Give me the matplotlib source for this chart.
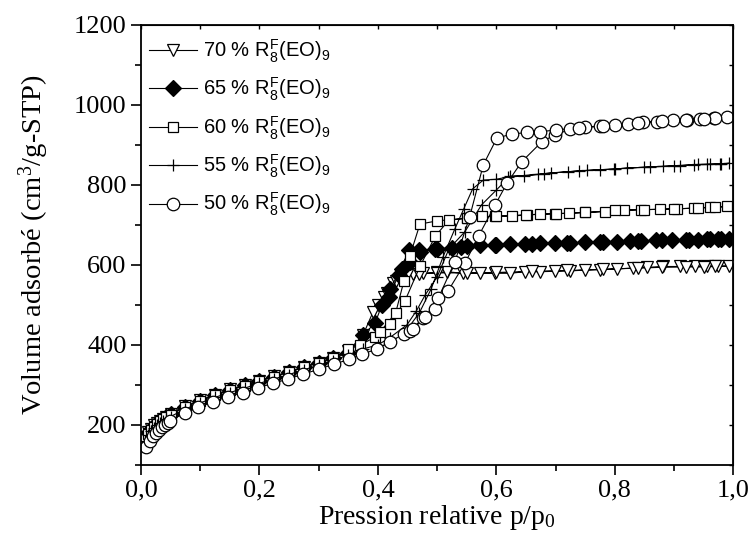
import numpy as np
import matplotlib.pyplot as plt
from matplotlib.ticker import MultipleLocator

plt.rcParams['font.family'] = ['Liberation Serif', 'DejaVu Serif']
plt.rcParams['mathtext.default'] = 'regular'

# Isothermes (adsorption puis désorption)
p70 = [0.007, 0.012, 0.017, 0.022, 0.027, 0.032, 0.037, 0.042, 0.05, 0.075, 0.1, 0.125, 0.15, 0.175,
       0.2, 0.225, 0.25, 0.275, 0.3, 0.325, 0.35, 0.375, 0.392, 0.41, 0.426, 0.44, 0.46, 0.477, 0.5,
       0.516, 0.544, 0.573, 0.598, 0.623, 0.649, 0.674, 0.699, 0.725, 0.75, 0.775, 0.803, 0.83,
       0.855, 0.882, 0.91, 0.935, 0.956, 0.975, 0.993,
       0.97, 0.95, 0.92, 0.88, 0.84, 0.78, 0.72, 0.66, 0.6, 0.55, 0.5, 0.47, 0.45, 0.43, 0.415, 0.4]
v70 = [170, 182, 191, 199, 205, 211, 216, 221, 228, 247, 262, 276, 289, 300,
       311, 322, 333, 345, 356, 368, 385, 425, 483, 520, 554, 571, 578, 579, 581,
       583, 579, 579, 579, 579, 583, 583, 584, 585, 587, 588, 590, 592,
       594, 596, 596, 596, 596, 597, 597,
       596, 595, 595, 594, 592, 589, 586, 584, 581, 580, 580, 578, 575, 560, 530, 500]

p65 = [0.007, 0.012, 0.017, 0.022, 0.027, 0.032, 0.037, 0.042, 0.05, 0.075, 0.1, 0.125, 0.15, 0.175,
       0.2, 0.225, 0.25, 0.275, 0.3, 0.325, 0.35, 0.375, 0.395, 0.407, 0.419, 0.435, 0.452, 0.471,
       0.497, 0.525, 0.55, 0.573, 0.598, 0.623, 0.649, 0.674, 0.699, 0.725, 0.75, 0.775, 0.803,
       0.825, 0.844, 0.87, 0.897, 0.925, 0.956, 0.975, 0.993,
       0.98, 0.96, 0.94, 0.92, 0.88, 0.84, 0.78, 0.72, 0.66, 0.6, 0.54, 0.5, 0.47, 0.454, 0.44, 0.42]
v65 = [168, 181, 190, 198, 204, 210, 215, 220, 227, 246, 261, 275, 288, 299,
       310, 321, 332, 344, 356, 367, 380, 425, 454, 500, 521, 575, 637, 633,
       639, 642, 647, 650, 650, 652, 652, 654, 654, 655, 656, 657, 658,
       659, 660, 661, 662, 663, 664, 664, 664,
       664, 664, 663, 663, 662, 660, 658, 655, 653, 650, 645, 640, 636, 608, 590, 540]

p60 = [0.007, 0.012, 0.017, 0.022, 0.027, 0.032, 0.037, 0.042, 0.05, 0.075, 0.1, 0.125, 0.15, 0.175,
       0.2, 0.225, 0.25, 0.275, 0.3, 0.325, 0.35, 0.37, 0.395, 0.42, 0.446, 0.471, 0.497, 0.52,
       0.55, 0.575, 0.598, 0.626, 0.652, 0.674, 0.699, 0.722, 0.75, 0.784, 0.815, 0.845, 0.877,
       0.905, 0.933, 0.96, 0.99,
       0.97, 0.94, 0.9, 0.85, 0.8, 0.75, 0.7, 0.65, 0.6, 0.55, 0.5, 0.471, 0.454, 0.444, 0.43, 0.404]
v60 = [165, 178, 188, 196, 203, 209, 214, 219, 225, 245, 260, 274, 287, 298,
       310, 321, 333, 344, 356, 367, 389, 400, 419, 452, 511, 596, 672, 712,
       716, 721, 721, 722, 725, 727, 728, 729, 731, 733, 737, 738, 739,
       740, 742, 744, 746,
       744, 742, 740, 738, 736, 731, 728, 725, 722, 717, 710, 702, 622, 560, 480, 433]

p55 = [0.007, 0.012, 0.017, 0.022, 0.027, 0.032, 0.037, 0.042, 0.05, 0.075, 0.1, 0.125, 0.15, 0.175,
       0.2, 0.225, 0.25, 0.275, 0.3, 0.325, 0.35, 0.375, 0.4, 0.42, 0.449, 0.465, 0.48, 0.5, 0.52,
       0.547, 0.575, 0.6, 0.623, 0.646, 0.671, 0.693, 0.721, 0.753, 0.775, 0.798, 0.82, 0.85,
       0.882, 0.91, 0.933, 0.955, 0.978, 0.993,
       0.98, 0.96, 0.94, 0.9, 0.86, 0.8, 0.74, 0.68, 0.62, 0.6, 0.578, 0.56, 0.545, 0.53, 0.51,
       0.49, 0.47, 0.45]
v55 = [160, 174, 184, 192, 199, 205, 210, 215, 221, 240, 255, 269, 281, 292,
       304, 315, 326, 338, 349, 361, 375, 390, 400, 418, 450, 485, 525, 570, 640,
       683, 750, 787, 822, 822, 826, 830, 833, 836, 838, 839, 842, 844,
       846, 848, 850, 851, 852, 854,
       853, 852, 851, 848, 845, 840, 835, 828, 820, 814, 812, 790, 740, 690, 620,
       540, 480, 440]

p50 = [0.009, 0.015, 0.02, 0.025, 0.03, 0.035, 0.04, 0.045, 0.049, 0.074, 0.097, 0.122, 0.147,
       0.173, 0.198, 0.223, 0.249, 0.274, 0.3, 0.326, 0.352, 0.373, 0.398, 0.42, 0.444, 0.454,
       0.477, 0.497, 0.519, 0.547, 0.57, 0.598, 0.618, 0.643, 0.677, 0.699, 0.725, 0.75, 0.775,
       0.8, 0.823, 0.848, 0.871, 0.899, 0.922, 0.944, 0.967, 0.989,
       0.97, 0.95, 0.92, 0.88, 0.84, 0.78, 0.74, 0.7, 0.674, 0.652, 0.626, 0.601, 0.578, 0.555,
       0.53, 0.502, 0.48, 0.46]
v50 = [146, 160, 172, 180, 188, 195, 201, 206, 211, 229, 244, 258, 271,
       281, 293, 304, 315, 327, 339, 352, 364, 377, 389, 408, 427, 436,
       467, 489, 536, 604, 672, 750, 804, 858, 908, 925, 939, 944, 947,
       950, 952, 956, 958, 961, 962, 964, 966, 969,
       967, 965, 962, 960, 955, 947, 943, 937, 933, 931, 927, 917, 850, 720,
       608, 517, 470, 440]

labels = ['70 % R$^F_8$(EO)$_9$', '65 % R$^F_8$(EO)$_9$', '60 % R$^F_8$(EO)$_9$',
          '55 % R$^F_8$(EO)$_9$', '50 % R$^F_8$(EO)$_9$']
xticks = [0.0, 0.2, 0.4, 0.6, 0.8, 1.0]
xticklabels = ['0,0', '0,2', '0,4', '0,6', '0,8', '1,0']
yticks = [200, 400, 600, 800, 1000, 1200]

fig = plt.figure(figsize=(7.52, 5.4), dpi=100)
ax = fig.add_axes([0.1875, 0.139, 0.7875, 0.815])

ax.plot(p70, v70, color='black', lw=0.8, marker='v', ms=9, mfc='white', mec='black', mew=0.9, label=labels[0])
ax.plot(p65, v65, color='black', lw=0.8, marker='D', ms=8, mfc='black', mec='black', mew=0.9, label=labels[1])
ax.plot(p60, v60, color='black', lw=0.8, marker='s', ms=7.5, mfc='white', mec='black', mew=0.9, label=labels[2])
ax.plot(p55, v55, color='black', lw=0.8, marker='+', ms=8, mec='black', mew=0.9, label=labels[3])
ax.plot(p50, v50, color='black', lw=0.8, marker='o', ms=9, mfc='white', mec='black', mew=0.9, label=labels[4])

ax.set_xlim(0, 1.0)
ax.set_ylim(100, 1200)
ax.set_xticks(xticks)
ax.set_xticklabels(xticklabels)
ax.set_yticks(yticks)
ax.xaxis.set_minor_locator(MultipleLocator(0.1))
ax.yaxis.set_minor_locator(MultipleLocator(100))
ax.tick_params(which='both', direction='out', labelsize=19, width=1.2)
ax.tick_params(which='major', length=7)
ax.tick_params(which='minor', length=4)
for s in ax.spines.values():
    s.set_linewidth(1.3)

# petites graduations sur les axes du haut et de droite
ax2 = ax.secondary_xaxis('top')
ax2.set_xticks(xticks)
ax2.xaxis.set_minor_locator(MultipleLocator(0.1))
ax2.tick_params(which='both', direction='in', length=3, width=1, labeltop=False)
ax3 = ax.secondary_yaxis('right')
ax3.set_yticks(yticks)
ax3.yaxis.set_minor_locator(MultipleLocator(100))
ax3.tick_params(which='both', direction='in', length=3, width=1, labelright=False)

ax.set_xlabel('Pression relative p/p$_0$', fontsize=20, labelpad=1)
ax.set_ylabel('Volume adsorbé (cm$^3$/g-STP)', fontsize=20.5, labelpad=16)

leg = ax.legend(loc='upper left', bbox_to_anchor=(0.0135, 0.972), frameon=False,
                prop={'family': 'Liberation Sans', 'size': 14.5},
                handlelength=2.4, handletextpad=0.3, labelspacing=0.55,
                borderaxespad=0, borderpad=0)

fig.savefig('out.png', dpi=100)
